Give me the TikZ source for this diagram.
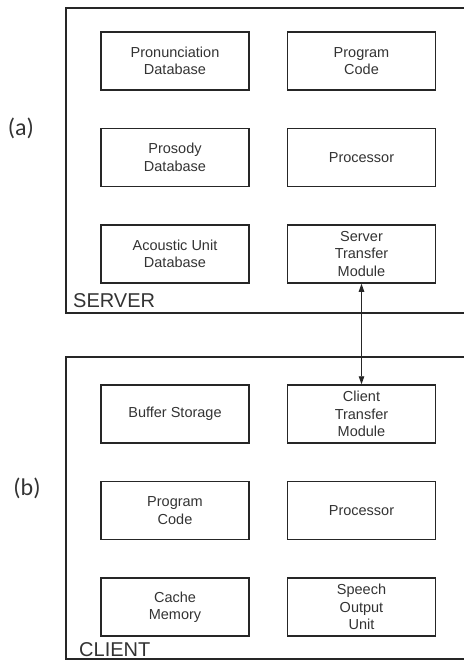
\documentclass[tikz,border=0pt]{standalone}
\usepackage{fontspec}
\setmainfont{Liberation Sans}
\newfontfamily\partfont{Carlito}
\usetikzlibrary{arrows.meta,positioning}

\tikzset{
  unitbox/.style={draw=black!85, line width=1.5pt, minimum width=148pt, minimum height=58pt,
    inner sep=0pt, align=center, text=black!80, font=\fontsize{14.5}{17.5}\selectfont},
  groupbox/.style={draw=black!85, line width=1.8pt},
  grouplabel/.style={anchor=base west, inner sep=0pt, text=black!80, font=\fontsize{20}{24}\selectfont},
  partlabel/.style={text=black!80, font=\partfont\fontsize{24}{28}\selectfont}
}

\begin{document}
\begin{tikzpicture}[x=1pt, y=-1pt, node distance=37pt and 37pt]
  \useasboundingbox (0,0) rectangle (463,661);

  % server side
  \draw[groupbox] (66,8) rectangle (470,313);
  \node[unitbox] (pronun) at (175,61) {Pronunciation\\Database};
  \node[unitbox, right=of pronun] (scode) {Program\\Code};
  \node[unitbox, below=of pronun] (prosody) {Prosody\\Database};
  \node[unitbox, right=of prosody] (sproc) {Processor};
  \node[unitbox, below=of prosody] (acoustic) {Acoustic Unit\\Database};
  \node[unitbox, right=of acoustic] (stransfer) {Server\\Transfer\\Module};
  \node[grouplabel] (server) at (73,307) {SERVER};
  \node[partlabel] (parta) at (21,128) {(a)};

  % client side
  \draw[groupbox] (66,357) rectangle (470,659);
  \node[unitbox] (buffer) at (175,414) {Buffer Storage};
  \node[unitbox, right=of buffer] (ctransfer) {Client\\Transfer\\Module};
  \node[unitbox, below=of buffer] (ccode) {Program\\Code};
  \node[unitbox, right=of ccode] (cproc) {Processor};
  \node[unitbox, below=of ccode] (cache) {Cache\\Memory};
  \node[unitbox, right=of cache] (speech) {Speech\\Output\\Unit};
  \node[grouplabel] (client) at (79,656) {CLIENT};
  \node[partlabel] (partb) at (27,488) {(b)};

  \draw[black!85, line width=0.9pt, {Triangle[length=8pt,width=5.5pt]}-{Triangle[length=8pt,width=5.5pt]}]
    (stransfer) -- (ctransfer);
\end{tikzpicture}
\end{document}
